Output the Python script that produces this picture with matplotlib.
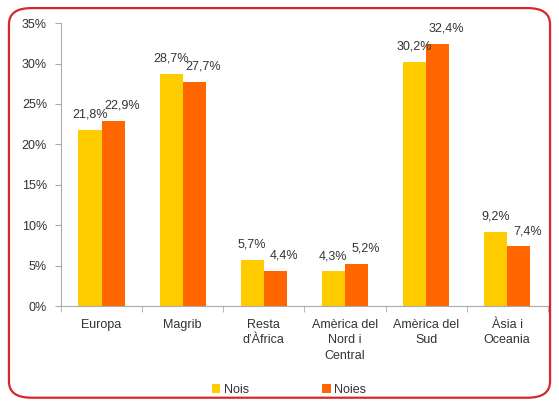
import numpy as np
import matplotlib
matplotlib.use("Agg")
import matplotlib.pyplot as plt
from matplotlib.patches import FancyBboxPatch

plt.rcParams['font.family'] = ['Liberation Sans', 'DejaVu Sans']

# data
categories = ["Europa", "Magrib", "Resta\nd’Àfrica", "Amèrica del\nNord i\nCentral",
              "Amèrica del\nSud", "Àsia i\nOceania"]
nois = [21.8, 28.7, 5.7, 4.3, 30.2, 9.2]
noies = [22.9, 27.7, 4.4, 5.2, 32.4, 7.4]
series_names = ["Nois", "Noies"]
yticks = [0, 5, 10, 15, 20, 25, 30, 35]

col_nois = "#FFCC00"
col_noies = "#FF6600"
txt = "#333333"
axis_col = "#AAAAAA"
fs = 9

fig = plt.figure(figsize=(5.59, 4.05), dpi=100)
ax = fig.add_axes([0.109, 0.244, 0.871, 0.699])

x = np.arange(len(categories))
w = 0.285
b1 = ax.bar(x - w / 2, nois, w, color=col_nois, label=series_names[0])
b2 = ax.bar(x + w / 2, noies, w, color=col_noies, label=series_names[1])

def fmt(v):
    return f"{v:.1f}%".replace(".", ",")

# value labels, a bit above each bar (Noies labels nudged right like the original)
for xi, v in zip(x, nois):
    ax.annotate(fmt(v), (xi - w / 2, v), xytext=(0, 11), textcoords="offset points",
                ha="center", va="center", fontsize=fs, color=txt)
for xi, v in zip(x, noies):
    ax.annotate(fmt(v), (xi + w / 2, v), xytext=(6.5, 11), textcoords="offset points",
                ha="center", va="center", fontsize=fs, color=txt)

ax.set_xlim(-0.5, len(categories) - 0.5)
ax.set_ylim(0, 35)
ax.set_yticks(yticks)
ax.set_yticklabels([f"{t}%" for t in yticks])
ax.set_xticks(x)
ax.set_xticklabels(categories, linespacing=1.4)
ax.set_xticks(np.arange(-0.5, len(categories)), minor=True)
ax.tick_params(axis="x", which="major", length=0, pad=9, labelsize=fs, colors=txt)
ax.tick_params(axis="x", which="minor", length=4, color=axis_col)
ax.tick_params(axis="y", length=4, color=axis_col, labelsize=fs, labelcolor=txt, pad=6)
for s in ["top", "right"]:
    ax.spines[s].set_visible(False)
for s in ["left", "bottom"]:
    ax.spines[s].set_color(axis_col)
    ax.spines[s].set_linewidth(0.8)

fig.legend(handles=[b1, b2], labels=series_names, loc="center",
           bbox_to_anchor=(0.517, 0.037), ncol=2, frameon=False, fontsize=fs,
           handlelength=0.7, handleheight=0.7, columnspacing=5.8, handletextpad=0.3,
           labelcolor=txt)

border = FancyBboxPatch((0.016, 0.018), 0.968, 0.962, boxstyle="round,pad=0,rounding_size=0.04",
                        transform=fig.transFigure, fill=False, edgecolor="#D9262B",
                        linewidth=1.6, zorder=10)
fig.patches.append(border)

fig.savefig("out.png", dpi=100)
